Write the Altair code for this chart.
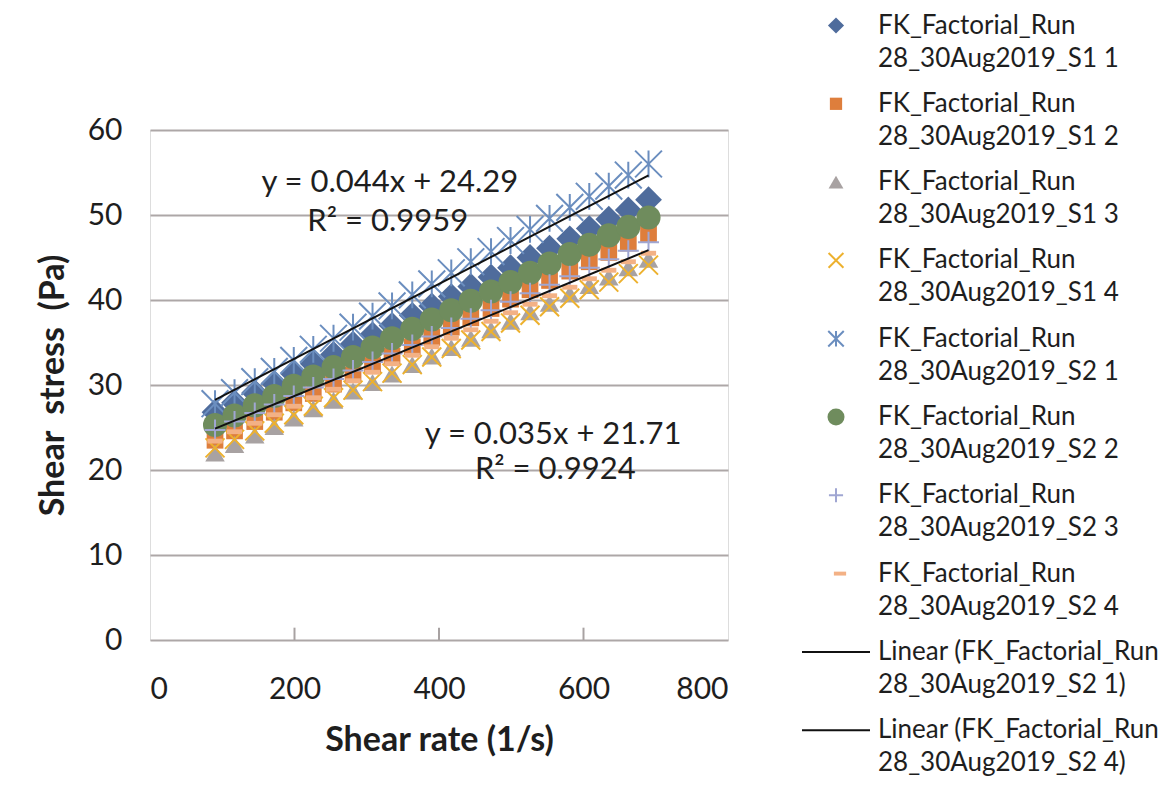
import altair as alt
import pandas as pd

# ---------------- data ----------------
shear_rate = [90, 117, 145, 172, 199, 226, 254, 281, 308, 335, 363, 390,
              417, 444, 472, 499, 526, 553, 581, 608, 635, 662, 690]

s1_1 = [26.8, 27.9, 29.1, 30.2, 31.3, 32.5, 33.6, 34.8, 35.9, 37.0, 38.2, 39.3,
        40.4, 41.6, 42.7, 43.8, 45.0, 46.1, 47.2, 48.4, 49.5, 50.6, 51.8]
s1_2 = [23.5, 24.6, 25.7, 26.8, 27.9, 29.0, 30.1, 31.2, 32.3, 33.4, 34.5, 35.6,
        36.8, 37.9, 39.0, 40.1, 41.2, 42.3, 43.4, 44.5, 45.6, 46.7, 47.8]
s1_3 = [22.0, 23.0, 24.1, 25.1, 26.1, 27.2, 28.2, 29.3, 30.3, 31.3, 32.4, 33.4,
        34.4, 35.5, 36.5, 37.5, 38.6, 39.6, 40.7, 41.7, 42.7, 43.8, 44.8]
s1_4 = [22.6, 23.6, 24.6, 25.5, 26.5, 27.5, 28.5, 29.4, 30.4, 31.4, 32.4, 33.3,
        34.3, 35.3, 36.3, 37.3, 38.2, 39.2, 40.2, 41.2, 42.1, 43.1, 44.1]
s2_1 = [27.8, 29.1, 30.4, 31.6, 32.9, 34.2, 35.5, 36.8, 38.1, 39.3, 40.6, 41.9,
        43.2, 44.5, 45.7, 47.0, 48.3, 49.6, 50.9, 52.2, 53.4, 54.7, 56.0]
s2_2 = [25.3, 26.4, 27.6, 28.7, 29.9, 31.0, 32.1, 33.3, 34.4, 35.5, 36.6, 37.7,
        38.8, 39.9, 41.0, 42.1, 43.2, 44.3, 45.4, 46.5, 47.6, 48.6, 49.7]
s2_3 = [24.7, 25.7, 26.7, 27.7, 28.7, 29.7, 30.7, 31.7, 32.7, 33.7, 34.7, 35.7,
        36.7, 37.8, 38.8, 39.8, 40.8, 41.8, 42.8, 43.8, 44.8, 45.8, 46.8]
s2_4 = [23.4, 24.5, 25.5, 26.5, 27.5, 28.5, 29.5, 30.5, 31.5, 32.5, 33.5, 34.5,
        35.5, 36.5, 37.5, 38.5, 39.5, 40.5, 41.5, 42.5, 43.5, 44.5, 45.5]

series_values = [s1_1, s1_2, s1_3, s1_4, s2_1, s2_2, s2_3, s2_4]
series_names = [
    "FK_Factorial_Run\n28_30Aug2019_S1 1",
    "FK_Factorial_Run\n28_30Aug2019_S1 2",
    "FK_Factorial_Run\n28_30Aug2019_S1 3",
    "FK_Factorial_Run\n28_30Aug2019_S1 4",
    "FK_Factorial_Run\n28_30Aug2019_S2 1",
    "FK_Factorial_Run\n28_30Aug2019_S2 2",
    "FK_Factorial_Run\n28_30Aug2019_S2 3",
    "FK_Factorial_Run\n28_30Aug2019_S2 4",
]
trend_names = [
    "Linear (FK_Factorial_Run\n28_30Aug2019_S2 1)",
    "Linear (FK_Factorial_Run\n28_30Aug2019_S2 4)",
]
trend_slopes = [0.044, 0.035]
trend_intercepts = [24.29, 21.71]
eq_texts = ["y = 0.044x + 24.29", "R² = 0.9959", "y = 0.035x + 21.71", "R² = 0.9924"]
eq_x = [332, 329, 558, 561]
eq_y = [53.8, 49.2, 24.1, 20.0]

x_ticks = [0, 200, 400, 600, 800]
y_ticks = [0, 10, 20, 30, 40, 50, 60]
inner_ticks = [200, 400, 600]

# ---------------- styles ----------------
X_PATH = "M-1,-1L1,1M-1,1L1,-1"
STAR_PATH = "M-1,-1L1,1M-1,1L1,-1M0,-1L0,1"
PLUS_PATH = "M-1,0L1,0M0,-1L0,1"
DASH_PATH = "M-1,-0.32L1,-0.32L1,0.32L-1,0.32Z"

styles = [
    dict(shape="diamond", filled=True, color="#4F6C9C", size=720, lsize=260),
    dict(shape="square", filled=True, color="#DE7E3C", size=280, lsize=150),
    dict(shape="triangle-up", filled=True, color="#A8A2A2", size=380, lsize=220),
    dict(shape=X_PATH, filled=False, color="#EDB12E", size=360, lsize=220),
    dict(shape=STAR_PATH, filled=False, color="#6B8EBF", size=720, lsize=240),
    dict(shape="circle", filled=True, color="#6F8C5D", size=580, lsize=290),
    dict(shape=PLUS_PATH, filled=False, color="#A0A6D2", size=440, lsize=200),
    dict(shape=DASH_PATH, filled=True, color="#F3B185", size=230, lsize=150),
]

FONT = "Lato"
TXT = "#1E1E1E"

x_scale = alt.Scale(domain=[0, 800], nice=False, zero=False)
y_scale = alt.Scale(domain=[0, 60], nice=False, zero=False)

axis_common = dict(labelFont=FONT, labelFontSize=30, labelColor=TXT,
                   titleFont=FONT, titleFontSize=34, titleFontWeight="bold",
                   titleColor=TXT, domain=False, ticks=False)

x_enc = alt.X("x:Q", scale=x_scale,
              axis=alt.Axis(values=x_ticks, title="Shear rate (1/s)", grid=False,
                            labelPadding=34, titlePadding=19, **axis_common))
y_enc = alt.Y("y:Q", scale=y_scale,
              axis=alt.Axis(values=y_ticks, title="Shear\u00a0 stress\u00a0 (Pa)", grid=True,
                            gridColor="#ADA7A7", gridWidth=2,
                            labelPadding=28, titlePadding=17, **axis_common))

plot_layers = []
# inner tick marks on the x axis
ticks_df = pd.DataFrame({"x": inner_ticks, "y": [0] * 3, "y2": [1.45] * 3})
plot_layers.append(
    alt.Chart(ticks_df).mark_rule(color="#A8A2A2", strokeWidth=2).encode(
        x=x_enc, y=y_enc, y2="y2:Q")
)

for name, vals, st in zip(series_names, series_values, styles):
    df = pd.DataFrame({"x": shear_rate, "y": vals, "series": name})
    if st["filled"]:
        mk = alt.Chart(df).mark_point(shape=st["shape"], filled=True, color=st["color"],
                                      opacity=1, size=st["size"], strokeWidth=0)
    else:
        mk = alt.Chart(df).mark_point(shape=st["shape"], filled=False, color=st["color"],
                                      opacity=1, size=st["size"], strokeWidth=2)
    plot_layers.append(mk.encode(x=x_enc, y=y_enc))

x_lo, x_hi = min(shear_rate), max(shear_rate)
for name, m, b in zip(trend_names, trend_slopes, trend_intercepts):
    tdf = pd.DataFrame({"x": [x_lo, x_hi], "y": [m * x_lo + b, m * x_hi + b]})
    plot_layers.append(
        alt.Chart(tdf).mark_line(color="#111111", strokeWidth=2).encode(x=x_enc, y=y_enc)
    )

eq_df = pd.DataFrame({"x": eq_x, "y": eq_y, "t": eq_texts})
plot_layers.append(
    alt.Chart(eq_df).mark_text(font=FONT, fontSize=31, color=TXT, baseline="middle",
                               align="center").encode(x=x_enc, y=y_enc, text="t:N")
)

plot = alt.layer(*plot_layers)

# ---------------- legend (right column) ----------------
legend_names = series_names + trend_names
leg_scale = alt.Scale(domain=[0, 9], range=[-104.5, -104.5 + 9 * 78.3], nice=False, zero=False)
leg_y = alt.Y("k:Q", scale=leg_scale, axis=None)

leg_layers = []
for i, st in enumerate(styles):
    ldf = pd.DataFrame({"k": [i]})
    if st["filled"]:
        mk = alt.Chart(ldf).mark_point(shape=st["shape"], filled=True, color=st["color"],
                                       opacity=1, size=st["lsize"], strokeWidth=0)
    else:
        mk = alt.Chart(ldf).mark_point(shape=st["shape"], filled=False, color=st["color"],
                                       opacity=1, size=st["lsize"], strokeWidth=2)
    xo = 690 if i == 7 else 686
    leg_layers.append(mk.encode(x=alt.value(xo), y=leg_y))

line_df = pd.DataFrame({"k": [8, 9]})
leg_layers.append(
    alt.Chart(line_df).mark_rule(color="#111111", strokeWidth=2).encode(
        x=alt.value(652), x2=alt.value(720), y=leg_y)
)

text_df = pd.DataFrame({"k": list(range(10)), "t": legend_names})
leg_layers.append(
    alt.Chart(text_df).mark_text(font=FONT, fontSize=26, color=TXT, align="left",
                                 baseline="middle", lineBreak="\n", lineHeight=33).encode(
        x=alt.value(728), y=leg_y, text="t:N")
)

legend = alt.layer(*leg_layers)

chart = alt.layer(plot, legend).resolve_scale(y="independent").properties(
    width=578, height=510,
    padding={"left": 142, "top": 122, "right": 436, "bottom": 139},
    autosize=alt.AutoSizeParams(type="none"),
).configure_view(
    stroke="#A8A2A2", strokeWidth=2.5
).configure(background="white")

chart.save("out.html", embed_options={"renderer": "svg", "actions": False})
